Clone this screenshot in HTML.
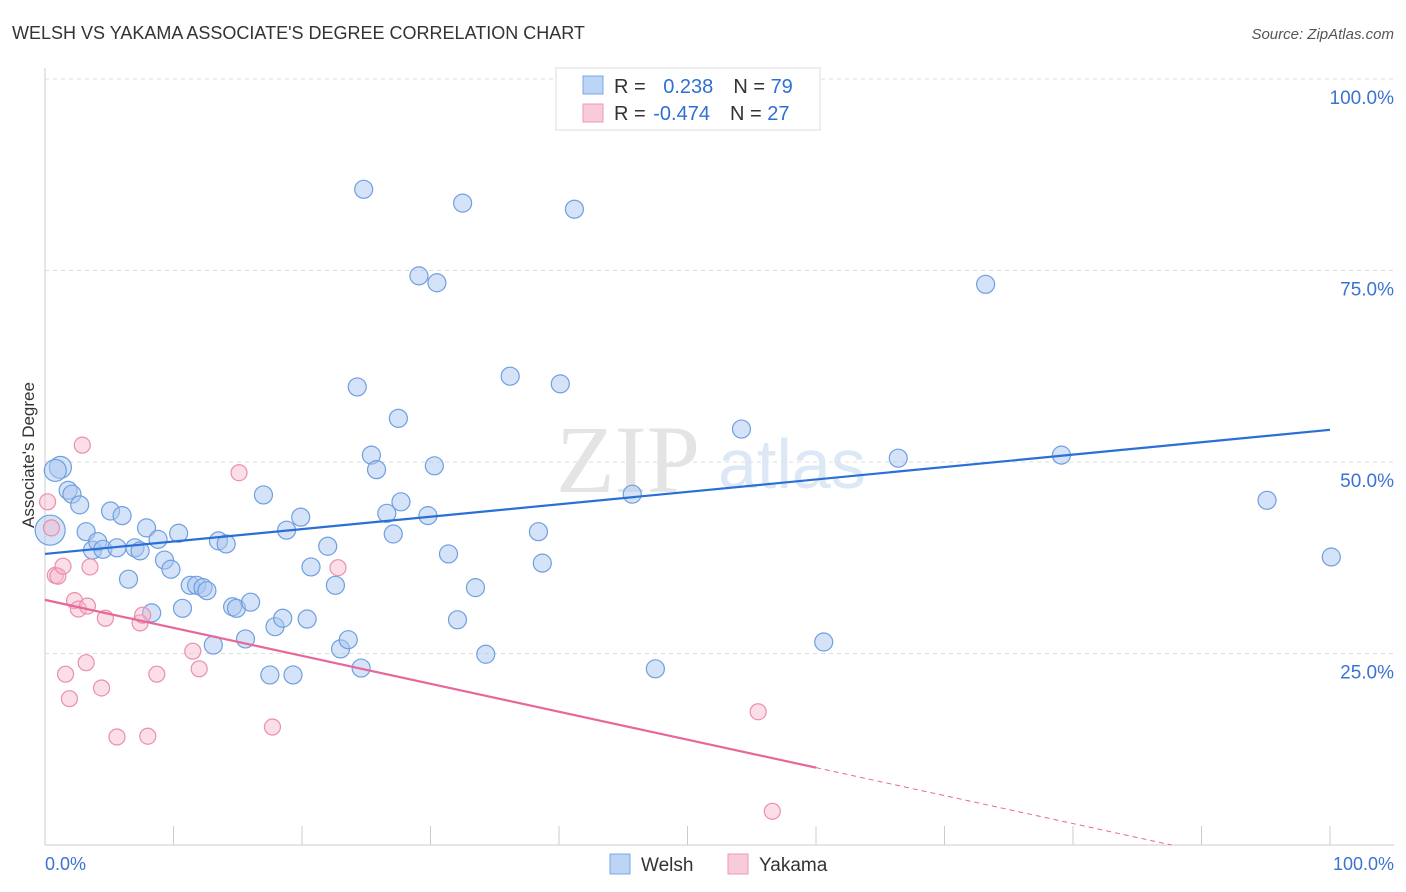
<!DOCTYPE html>
<html><head><meta charset="utf-8"><style>
body{margin:0;background:#fff;font-family:"Liberation Sans",sans-serif;}
svg{display:block}
</style></head><body>
<svg id="chart" width="1406" height="892">
<text x="12" y="39" font-size="18" fill="#333">WELSH VS YAKAMA ASSOCIATE'S DEGREE CORRELATION CHART</text>
<text x="1394" y="39" font-size="15" fill="#555" font-style="italic" text-anchor="end">Source: ZipAtlas.com</text>
<g id="grid"></g>
<text x="700" y="492" font-size="96" fill="#e4e4e4" font-family="Liberation Serif,serif" text-anchor="end">ZIP</text>
<text x="718" y="488" font-size="70" fill="#dce8f6">atlas</text>
<g id="pts"></g>
<g id="lines"></g>
<text x="34" y="455" font-size="17" fill="#333" text-anchor="middle" transform="rotate(-90 34 455)">Associate's Degree</text>
<g>
<rect x="556" y="68" width="264" height="62" fill="#fff" stroke="#ddd"/>
<rect x="583" y="76" width="20" height="18" fill="#bcd4f5" stroke="#7aa7e6"/>
<text x="614" y="93" font-size="20" fill="#333">R = <tspan fill="#2f6fd3" dx="12">0.238</tspan><tspan dx="20">N = </tspan><tspan fill="#2f6fd3">79</tspan></text>
<rect x="583" y="104" width="20" height="18" fill="#f9cadb" stroke="#eb9ab6"/>
<text x="614" y="120" font-size="20" fill="#333">R = <tspan fill="#2f6fd3" dx="2">-0.474</tspan><tspan dx="20">N = </tspan><tspan fill="#2f6fd3">27</tspan></text>
</g>
<g>
<rect x="610" y="854" width="20" height="20" fill="#bcd4f5" stroke="#7aa7e6"/>
<text x="641" y="871" font-size="19" fill="#333">Welsh</text>
<rect x="728" y="854" width="20" height="20" fill="#f9cadb" stroke="#eb9ab6"/>
<text x="759" y="871" font-size="19" fill="#333">Yakama</text>
</g>
<text x="45" y="870" font-size="18" fill="#3b73d1">0.0%</text>
<text x="1394" y="870" font-size="18" fill="#3b73d1" text-anchor="end">100.0%</text>
</svg>
<script>
const welshX=[1.2,0.8,0.4,1.8,2.1,2.7,3.2,3.7,4.1,4.5,5.1,5.6,6.0,6.5,7.0,7.4,7.9,8.3,8.8,9.3,9.8,10.4,10.7,11.3,11.8,12.3,12.6,13.1,13.5,14.1,14.6,14.9,15.6,16.0,17.0,17.5,17.9,18.5,18.8,19.3,19.9,20.4,20.7,22.0,22.6,23.0,23.6,24.3,24.6,24.8,25.4,25.8,26.6,27.1,27.5,27.7,29.1,29.8,30.3,30.5,31.4,32.1,32.5,33.5,34.3,36.2,38.4,38.7,40.1,41.2,45.7,47.5,54.2,60.6,66.4,73.2,79.1,95.1,100.1];
const welshY=[49.3,48.9,41.1,46.3,45.8,44.4,40.9,38.5,39.6,38.6,43.6,38.8,43.0,34.7,38.8,38.4,41.4,30.3,39.9,37.2,36.0,40.7,30.9,33.9,33.9,33.6,33.2,26.1,39.7,39.3,31.1,30.9,26.9,31.7,45.7,22.2,28.5,29.6,41.1,22.2,42.8,29.5,36.3,39.0,33.9,25.6,26.8,59.8,23.1,85.6,50.9,49.0,43.3,40.6,55.7,44.8,74.3,43.0,49.5,73.4,38.0,29.4,83.8,33.6,24.9,61.2,40.9,36.8,60.2,83.0,45.8,23.0,54.3,26.5,50.5,73.2,50.9,45.0,37.6];
const yakX=[0.2,0.5,0.8,1.0,1.4,1.6,1.9,2.3,2.6,2.9,3.2,3.3,3.5,4.4,4.7,5.6,7.4,7.6,8.0,8.7,11.5,12.0,15.1,17.7,22.8,55.5,56.6];
const yakY=[44.8,41.4,35.2,35.1,36.4,22.3,19.1,31.9,30.8,52.2,23.8,31.2,36.3,20.5,29.6,14.1,29.0,30.0,14.2,22.3,25.3,23.0,48.6,15.4,36.2,17.4,4.4];
const welshTrend=[38.0,54.2];
const yakTrend=[32.0,-4.5];
const yTicks=[25,50,75,100];
const yTickLabels=["25.0%","50.0%","75.0%","100.0%"];
const xTicks=[0,10,20,30,40,50,60,70,80,90,100];
const X=v=>45+12.85*v, Y=v=>845-7.66*v;
const NS="http://www.w3.org/2000/svg";
function mk(t,a,p){const e=document.createElementNS(NS,t);for(const k in a)e.setAttribute(k,a[k]);p.appendChild(e);return e;}
const g=document.getElementById('grid');
let ax=mk('line',{x1:45,y1:68,x2:45,y2:845,stroke:'#ccc'},g);


let bx=mk('line',{x1:45,y1:845,x2:1394,y2:845,stroke:'#ccc'},g);


yTicks.forEach((v,i)=>{
 const l=mk('line',{x1:45,y1:Y(v),x2:1394,y2:Y(v),stroke:'#ddd','stroke-dasharray':'4,4'},g);
 
 
 const t=mk('text',{x:1394,y:Y(v)+25,'font-size':19,fill:'#3b73d1','text-anchor':'end'},g);
 t.textContent=yTickLabels[i];
 
 
});
xTicks.forEach(v=>{
 const l=mk('line',{x1:X(v),y1:826,x2:X(v),y2:845,stroke:'#ccc'},g);
 
 
});
const p=document.getElementById('pts');
welshX.forEach((x,i)=>{
 const r=(i<3)?(i==2?15:11):9;
 const c=mk('circle',{cx:X(x),cy:Y(welshY[i]),r:r,fill:'#a9c7f0','fill-opacity':0.5,stroke:'#6f9fe0','stroke-width':1.2},p);
 
 
});
yakX.forEach((x,i)=>{
 const c=mk('circle',{cx:X(x),cy:Y(yakY[i]),r:8,fill:'#f6b5ca','fill-opacity':0.45,stroke:'#e890ad','stroke-width':1.2},p);
 
 
});
const L=document.getElementById('lines');
let wl=mk('line',{x1:X(0),y1:Y(welshTrend[0]),x2:X(100),y2:Y(welshTrend[1]),stroke:'#2a6fd6','stroke-width':2.2},L);


const yk=x=>yakTrend[0]+(yakTrend[1]-yakTrend[0])*x/100;
let yl=mk('line',{x1:X(0),y1:Y(yk(0)),x2:X(60),y2:Y(yk(60)),stroke:'#e8679a','stroke-width':2.2},L);


const x0=-yakTrend[0]/((yakTrend[1]-yakTrend[0])/100);
let yd=mk('line',{x1:X(60),y1:Y(yk(60)),x2:X(Math.min(100,x0)),y2:Y(yk(Math.min(100,x0))),stroke:'#e8679a','stroke-width':1,'stroke-dasharray':'5,4'},L);


</script>
</body></html>
